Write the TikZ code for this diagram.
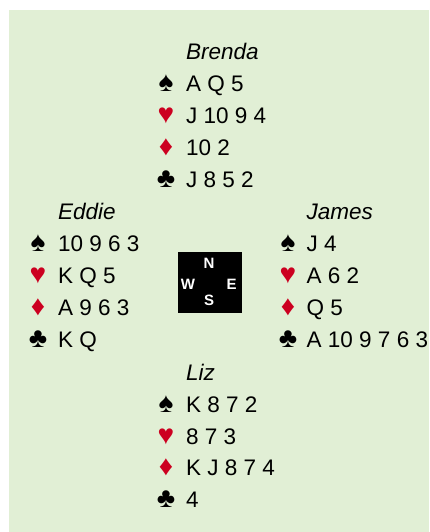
\documentclass[tikz,border=0pt]{standalone}
\usepackage{fontspec}
\setmainfont{Liberation Sans}
\definecolor{feltgreen}{RGB}{225,239,213}
\definecolor{suitred}{RGB}{204,0,32}
\tikzset{
  cards/.style={anchor=base west,inner sep=0pt,font=\fontsize{22.5}{26}\selectfont},
  player/.style={cards,font=\fontsize{22.5}{26}\selectfont\itshape},
  suit/.style={anchor=base,inner sep=0pt,font=\fontsize{28}{30}\selectfont},
  redsuit/.style={suit,text=suitred},
  compass/.style={text=white,inner sep=0pt,font=\fontsize{15}{17}\selectfont\bfseries}
}
\begin{document}
\begin{tikzpicture}[x=1pt,y=-1pt]
\useasboundingbox (0,0) rectangle (429,532);
\fill[feltgreen] (9,10) rectangle (429,532);

% North
\node[player] (nname) at (186,60) {Brenda};
\node[suit] (ns) at (166,92) {♠};
\node[cards] (nsc) at (186,92) {A Q 5};
\node[redsuit] (nh) at (166,124) {♥};
\node[cards] (nhc) at (186,124) {J 10 9 4};
\node[redsuit] (nd) at (166,155) {♦};
\node[cards] (ndc) at (186,155) {10 2};
\node[suit] (nc) at (166,187) {♣};
\node[cards] (ncc) at (186,187) {J 8 5 2};

% West
\node[player] (wname) at (58,219) {Eddie};
\node[suit] (ws) at (38,251.5) {♠};
\node[cards] (wsc) at (58,251.5) {10 9 6 3};
\node[redsuit] (wh) at (38,283.5) {♥};
\node[cards] (whc) at (58,283.5) {K Q 5};
\node[redsuit] (wd) at (38,315.5) {♦};
\node[cards] (wdc) at (58,315.5) {A 9 6 3};
\node[suit] (wc) at (38,347) {♣};
\node[cards] (wcc) at (58,347) {K Q};

% East
\node[player] (ename) at (306.5,219) {James};
\node[suit] (es) at (288,251.5) {♠};
\node[cards] (esc) at (306.5,251.5) {J 4};
\node[redsuit] (eh) at (288,283.5) {♥};
\node[cards] (ehc) at (306.5,283.5) {A 6 2};
\node[redsuit] (ed) at (288,315.5) {♦};
\node[cards] (edc) at (306.5,315.5) {Q 5};
\node[suit] (ec) at (288,347) {♣};
\node[cards] (ecc) at (306.5,347) {A 10 9 7 6 3};

% South
\node[player] (sname) at (186,380) {Liz};
\node[suit] (ss) at (166,412) {♠};
\node[cards] (ssc) at (186,412) {K 8 7 2};
\node[redsuit] (sh) at (166,444) {♥};
\node[cards] (shc) at (186,444) {8 7 3};
\node[redsuit] (sd) at (166,475.5) {♦};
\node[cards] (sdc) at (186,475.5) {K J 8 7 4};
\node[suit] (sc) at (166,507) {♣};
\node[cards] (scc) at (186,507) {4};

% table
\node[fill=black,minimum width=64pt,minimum height=61pt,inner sep=0pt] (table) at (210,282.5) {};
\node[compass] (north) at (209,263) {N};
\node[compass] (west) at (188,284.5) {W};
\node[compass] (east) at (231.5,284.5) {E};
\node[compass] (south) at (209,300.5) {S};
\end{tikzpicture}
\end{document}
